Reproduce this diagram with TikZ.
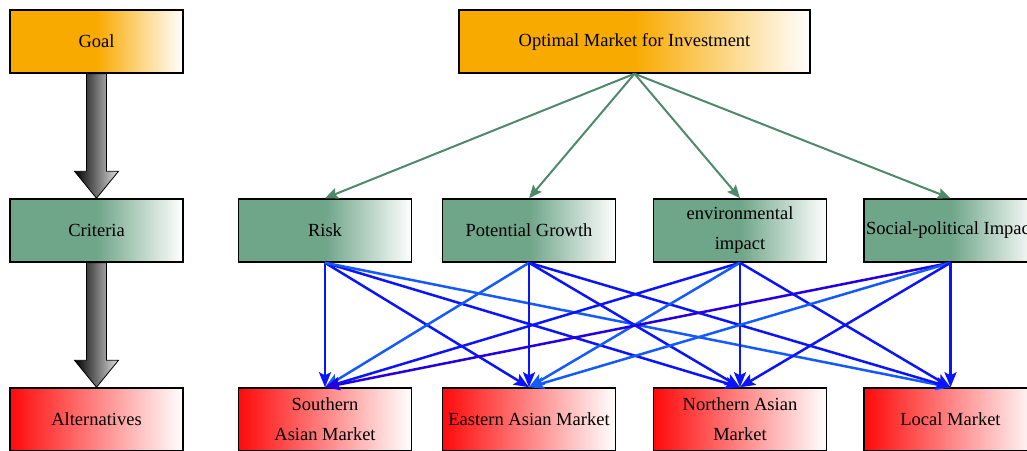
\documentclass[tikz,border=0pt]{standalone}
\usepackage{fontspec}
\setmainfont{Liberation Serif}
\usetikzlibrary{arrows.meta,calc}
\definecolor{orangeC}{RGB}{249,170,0}
\definecolor{greenC}{RGB}{111,165,137}
\definecolor{redC}{RGB}{255,10,10}
\definecolor{arrowG}{RGB}{78,138,106}
\definecolor{blueA}{RGB}{10,20,255}
\definecolor{blueL}{RGB}{20,90,255}
\definecolor{blueD}{RGB}{35,0,225}
\begin{document}
\begin{tikzpicture}[x=1pt,y=-1pt,
 box/.style={draw=black,line width=1.5pt,minimum width=173pt,minimum height=63pt,inner sep=0pt,align=center,font=\fontsize{18.5}{30}\selectfont},
 goalbox/.style={box,left color=orangeC,right color=white,middle color=orangeC},
 critbox/.style={box,left color=greenC,right color=white,middle color=greenC},
 altbox/.style={box,left color=redC,right color=white},
 garrow/.style={draw=arrowG,line width=2pt,-{Stealth[length=13pt,width=11pt,inset=2pt]}},
 barrow/.style={line width=2.5pt,-{Stealth[length=15pt,width=12pt,inset=3pt]}},
 fat/.style={draw=black,line width=0.8pt,left color=black,right color=gray!25}]
\useasboundingbox (0,0) rectangle (1027,450);
\clip (0,0) rectangle (1027,450);

\node[goalbox] (goal) at (96.5,41.5) {Goal};
\node[goalbox,minimum width=351pt] (opt) at (634.5,41.5) {Optimal Market for Investment};
\node[critbox] (crit) at (96.5,230.5) {Criteria};
\node[critbox] (c1) at (325,230.5) {Risk};
\node[critbox] (c2) at (529,230.5) {Potential Growth};
\node[critbox] (c3) at (740,230.5) {environmental\\impact};
\node[critbox] (c4) at (950.5,230.5) {Social-political Impact};
\node[altbox] (alt) at (96.5,419.5) {Alternatives};
\node[altbox] (a1) at (325,419.5) {Southern\\Asian Market};
\node[altbox] (a2) at (529,419.5) {Eastern Asian Market};
\node[altbox] (a3) at (740,419.5) {Northern Asian\\Market};
\node[altbox] (a4) at (950.5,419.5) {Local Market};

% fat arrows
\path[fat] ($(goal.south)+(-10,0)$) -- ($(crit.north)+(-10,-27)$) -- ($(crit.north)+(-22,-27)$) -- (crit.north) -- ($(crit.north)+(22,-27)$) -- ($(crit.north)+(10,-27)$) -- ($(goal.south)+(10,0)$) -- cycle;
\path[fat] ($(crit.south)+(-10,0)$) -- ($(alt.north)+(-10,-27)$) -- ($(alt.north)+(-22,-27)$) -- (alt.north) -- ($(alt.north)+(22,-27)$) -- ($(alt.north)+(10,-27)$) -- ($(crit.south)+(10,0)$) -- cycle;

% green arrows
\foreach \c in {c1,c2,c3,c4} \draw[garrow] (opt.south) -- (\c.north);

% blue arrows
\foreach \c/\a/\col in {c1/a1/blueA, c1/a2/blueA, c1/a3/blueA, c1/a4/blueL,
  c2/a1/blueL, c2/a2/blueA, c2/a3/blueA, c2/a4/blueA,
  c3/a1/blueA, c3/a2/blueL, c3/a3/blueA, c3/a4/blueA,
  c4/a1/blueD, c4/a2/blueL, c4/a3/blueA, c4/a4/blueA}
  \draw[barrow,draw=\col,fill=\col] (\c.south) -- (\a.north);
\end{tikzpicture}
\end{document}
